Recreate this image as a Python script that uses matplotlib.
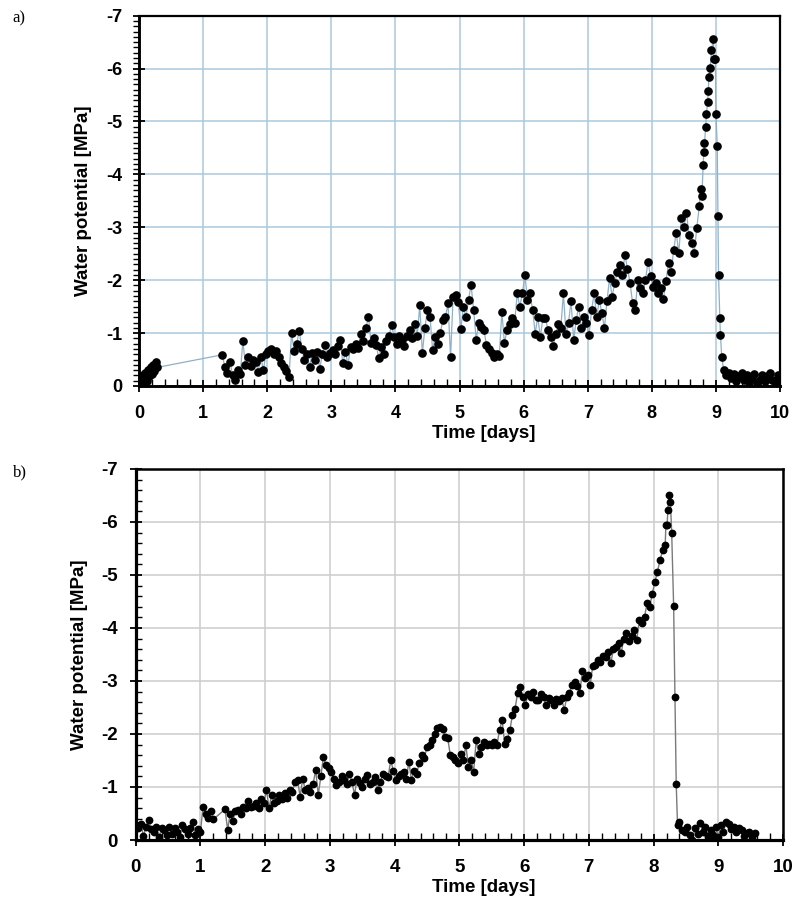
import numpy as np
import matplotlib
matplotlib.use('Agg')
import matplotlib.pyplot as plt
from matplotlib.ticker import MultipleLocator

plt.rcParams['font.family'] = 'Liberation Sans'
plt.rcParams['axes.unicode_minus'] = False

# ---------------- panel a) -- magnitudes of water potential [MPa] ----------------
# first short record, every 0.02 day from t=0
a_seg0_t0, a_seg0_dt = 0.00, 0.02
a_seg0 = [0.08, 0.15, 0.05, 0.20, 0.12, 0.25, 0.10, 0.30, 0.18, 0.35, 0.22, 0.40, 0.28, 0.45, 0.35]

# main record, every 0.04 day from t=1.30
a_seg1_t0, a_seg1_dt = 1.30, 0.04
a_seg1 = [
    0.59, 0.35, 0.25, 0.45, 0.20, 0.12, 0.30, 0.22, 0.85, 0.40, 0.55, 0.38, 0.50, 0.45, 0.27, 0.55, 0.30, 0.60,
    # 2.02 - 2.98
    0.66, 0.69, 0.60, 0.66, 0.55, 0.44, 0.35, 0.28, 0.17, 1.00, 0.66, 0.80, 1.04, 0.70, 0.49, 0.60, 0.36, 0.62,
    0.50, 0.65, 0.33, 0.60, 0.77, 0.55, 0.62,
    # 3.02 - 3.98
    0.68, 0.60, 0.75, 0.87, 0.43, 0.65, 0.40, 0.74, 0.70, 0.80, 0.72, 0.99, 0.85, 1.09, 1.31, 0.81, 0.90, 0.78,
    0.52, 0.74, 0.60, 0.85, 0.95, 1.15, 0.93,
    # 4.02 - 4.98
    0.80, 0.95, 0.87, 0.75, 0.95, 1.06, 0.90, 1.18, 0.95, 1.53, 0.62, 1.10, 1.44, 1.31, 0.68, 0.93, 0.80, 1.00,
    1.25, 1.30, 1.56, 0.55, 1.69, 1.72, 1.59,
    # 5.02 - 5.98
    1.07, 1.50, 1.30, 1.63, 1.91, 1.44, 0.87, 1.20, 1.12, 1.06, 0.78, 0.70, 0.62, 0.55, 0.60, 0.57, 1.40, 0.81,
    1.06, 1.18, 1.28, 1.20, 1.75, 1.50, 1.75,
    # 6.02 - 6.98
    2.10, 1.63, 1.75, 1.44, 0.99, 1.31, 0.93, 1.28, 1.28, 1.06, 0.93, 0.75, 0.99, 1.18, 1.10, 1.75, 0.99, 1.20,
    1.60, 0.87, 1.25, 1.50, 1.09, 1.31, 1.20,
    # 7.02 - 7.98
    0.96, 1.44, 1.75, 1.30, 1.63, 1.38, 1.09, 1.60, 2.04, 1.69, 1.94, 2.16, 2.29, 2.10, 2.48, 2.22, 1.95, 1.56,
    1.44, 2.00, 1.85, 1.75, 2.00, 2.35, 2.07,
    # 8.02 - 8.74
    1.88, 1.95, 1.75, 1.85, 1.64, 1.99, 2.32, 2.15, 2.57, 2.90, 2.51, 3.17, 3.00, 3.27, 2.85, 2.70, 2.51, 2.98, 3.40,
]

# fast rise and collapse before re-watering
a_peak_t = [8.76, 8.78, 8.80, 8.81, 8.82, 8.84, 8.85, 8.87, 8.88, 8.89, 8.91, 8.93, 8.96, 8.97, 8.99,
            9.00, 9.02, 9.03, 9.04, 9.06, 9.07, 9.09]
a_peak = [3.72, 3.60, 4.17, 4.43, 4.59, 4.89, 5.14, 5.36, 5.58, 5.85, 6.02, 6.35, 6.56, 6.18, 6.18,
          5.14, 4.54, 3.22, 2.10, 1.29, 0.96, 0.55]

# after re-watering, every 0.04 day from t=9.12
a_seg2_t0, a_seg2_dt = 9.12, 0.04
a_seg2 = [0.30, 0.20, 0.25, 0.15, 0.22, 0.10, 0.18, 0.25, 0.12, 0.20, 0.08, 0.15, 0.22, 0.05, 0.12, 0.20,
          0.10, 0.18, 0.25, 0.12, 0.08, 0.20, 0.10]

# ---------------- panel b) ----------------
b_seg0_t0, b_seg0_dt = 0.00, 0.04
b_seg0 = [0.28, 0.22, 0.30, 0.07, 0.25, 0.38, 0.20, 0.15, 0.25, 0.05, 0.22, 0.18, 0.10, 0.25, 0.12, 0.22,
          0.15, 0.05, 0.28, 0.20, 0.12, 0.22, 0.34, 0.10, 0.20, 0.15, 0.63, 0.50, 0.41, 0.55, 0.39]

b_seg1_t0, b_seg1_dt = 1.38, 0.04
b_seg1 = [
    0.58, 0.19, 0.50, 0.35, 0.55, 0.57, 0.50, 0.62, 0.60, 0.74, 0.62, 0.65, 0.70, 0.60, 0.77, 0.70,
    # 2.02 - 2.98
    0.94, 0.60, 0.85, 0.70, 0.74, 0.85, 0.78, 0.88, 0.80, 0.95, 0.90, 1.10, 1.13, 0.82, 1.16, 0.94, 0.98, 0.91,
    1.05, 1.32, 0.85, 1.20, 1.57, 1.41, 1.35,
    # 3.02 - 3.98
    1.29, 1.15, 1.04, 1.10, 1.20, 1.13, 1.05, 1.25, 1.10, 0.85, 1.16, 1.08, 1.00, 1.15, 1.22, 1.05, 1.10, 1.18,
    0.94, 1.10, 1.25, 1.20, 1.19, 1.51, 1.30,
    # 4.02 - 4.98
    1.13, 1.20, 1.25, 1.29, 1.15, 1.48, 1.13, 1.30, 1.25, 1.45, 1.60, 1.55, 1.76, 1.80, 1.89, 2.00, 2.11, 2.14,
    2.10, 1.95, 1.92, 1.60, 1.57, 1.51, 1.45,
    # 5.02 - 5.98
    1.63, 1.50, 1.79, 1.38, 1.51, 1.29, 1.88, 1.63, 1.75, 1.85, 1.80, 1.82, 1.79, 1.85, 1.79, 2.07, 2.27, 1.82,
    1.90, 2.07, 2.36, 2.48, 2.77, 2.89, 2.70,
    # 6.02 - 6.98
    2.54, 2.75, 2.70, 2.80, 2.65, 2.64, 2.75, 2.70, 2.54, 2.68, 2.64, 2.54, 2.66, 2.62, 2.67, 2.45, 2.70, 2.77,
    2.93, 2.99, 2.90, 2.77, 3.18, 3.05, 3.12,
    # 7.02 - 7.98
    2.93, 3.28, 3.30, 3.40, 3.35, 3.47, 3.45, 3.55, 3.34, 3.60, 3.65, 3.71, 3.53, 3.80, 3.90, 3.75, 3.85, 3.96,
    3.77, 4.15, 4.10, 4.21, 4.47, 4.40, 4.65,
    # 8.02 - 8.18
    4.87, 5.06, 5.28, 5.47, 5.57,
]

b_peak_t = [8.19, 8.21, 8.22, 8.24, 8.26, 8.28, 8.31, 8.33, 8.35, 8.37]
b_peak = [5.94, 5.94, 6.23, 6.50, 6.38, 5.80, 4.42, 2.69, 1.06, 0.28]

b_seg2_t0, b_seg2_dt = 8.40, 0.04
b_seg2 = [0.34, 0.19, 0.16, 0.25, 0.10, 0.00, 0.22, 0.12, 0.33, 0.15, 0.25, 0.08, 0.19, 0.10, 0.25, 0.05,
          0.28, 0.15, 0.34, 0.31, 0.20, 0.25, 0.15, 0.22, 0.19, 0.08, 0.13, 0.16, 0.05, 0.13]


def series(parts):
    ts, vs = [], []
    for p in parts:
        if len(p) == 3:
            t0, dt, v = p
            ts.append(t0 + dt * np.arange(len(v)))
        else:
            t, v = p
            ts.append(np.array(t))
        vs.append(np.array(v))
    return np.concatenate(ts), -np.concatenate(vs)


ta, psia = series([(a_seg0_t0, a_seg0_dt, a_seg0), (a_seg1_t0, a_seg1_dt, a_seg1),
                   (a_peak_t, a_peak), (a_seg2_t0, a_seg2_dt, a_seg2)])
tb, psib = series([(b_seg0_t0, b_seg0_dt, b_seg0), (b_seg1_t0, b_seg1_dt, b_seg1),
                   (b_peak_t, b_peak), (b_seg2_t0, b_seg2_dt, b_seg2)])

fig = plt.figure(figsize=(7.96, 9.01), dpi=100)
ax_a = fig.add_axes([0.1746, 0.5716, 0.8054, 0.4110])
ax_b = fig.add_axes([0.1705, 0.0677, 0.8132, 0.4118])


def style(ax, gridcolor, fs, ypad, xpad, ymin_dir, ymin_step, lw_sp, xlab_y):
    ax.set_xlim(0, 10)
    ax.set_ylim(0, -7)
    ax.xaxis.set_major_locator(MultipleLocator(1))
    ax.yaxis.set_major_locator(MultipleLocator(1))
    ax.xaxis.set_minor_locator(MultipleLocator(0.2))
    ax.yaxis.set_minor_locator(MultipleLocator(ymin_step))
    ax.grid(True, which='major', color=gridcolor, lw=1.1, zorder=0)
    ax.set_axisbelow(True)
    ax.tick_params(axis='both', which='major', direction='inout', length=9, width=1.3,
                   labelsize=fs, color='black')
    ax.tick_params(axis='y', which='major', pad=ypad)
    ax.tick_params(axis='x', which='major', pad=xpad)
    ax.tick_params(axis='x', which='minor', direction='in', length=5, width=1.0)
    ax.tick_params(axis='y', which='minor', direction=ymin_dir, length=4, width=1.0)
    for lab in ax.get_xticklabels() + ax.get_yticklabels():
        lab.set_fontweight('bold')
    for s in ax.spines.values():
        s.set_linewidth(lw_sp)
    ax.spines['left'].set_linewidth(lw_sp + 0.5)
    ax.spines['bottom'].set_linewidth(lw_sp + 0.5)
    ax.set_xlabel('Time [days]', fontsize=13.5, fontweight='bold')
    ax.set_ylabel('Water potential [MPa]', fontsize=13.5, fontweight='bold')
    ax.xaxis.set_label_coords(0.538, xlab_y)
    ax.yaxis.set_label_coords(-0.073, 0.5)


ax_a.plot(ta, psia, color='#8fb0c8', lw=0.9, marker='o', ms=5.2, mfc='black', mec='black', zorder=3)
style(ax_a, '#a9c9dc', 13, 7.5, 9.5, 'out', 0.1, 1.6, -0.106)

ax_b.plot(tb, psib, color='#7a7a7a', lw=1.0, marker='o', ms=4.6, mfc='black', mec='black', zorder=3)
style(ax_b, '#cccccc', 13.5, 8.5, 9.5, 'in', 0.2, 1.8, -0.106)

fig.text(0.016, 0.980, 'a)', family='Liberation Serif', fontsize=12, va='center', ha='left')
fig.text(0.016, 0.476, 'b)', family='Liberation Serif', fontsize=12, va='center', ha='left')

fig.savefig('out.png', dpi=100)
